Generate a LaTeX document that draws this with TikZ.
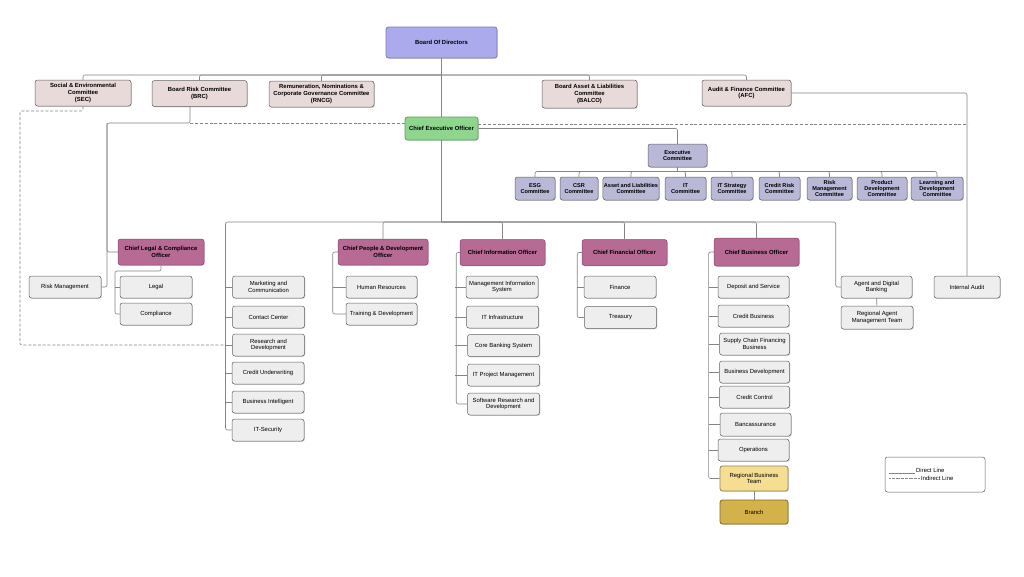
\documentclass[tikz,border=0pt]{standalone}
\usepackage{fontspec}
\setmainfont{Liberation Sans}
\usetikzlibrary{shadows}
\definecolor{boardblue}{HTML}{AAAAEC}
\definecolor{boardline}{HTML}{7B7BB5}
\definecolor{commpink}{HTML}{E8DAD8}
\definecolor{ceogreen}{HTML}{8ED68E}
\definecolor{ceoline}{HTML}{5E9E5E}
\definecolor{execgray}{HTML}{B9B9D7}
\definecolor{officermauve}{HTML}{B66A94}
\definecolor{unitgray}{HTML}{EEEEEE}
\definecolor{rbtyellow}{HTML}{F5DE92}
\definecolor{branchgold}{HTML}{D4B24A}
\definecolor{linegray}{HTML}{858585}
\tikzset{
  base/.style={draw=gray!75!black, line width=0.5pt, rounded corners=2.5pt, align=center, inner sep=1pt,
    font=\fontsize{5.9}{6.6}\selectfont, drop shadow={shadow xshift=0.8pt, shadow yshift=-0.8pt, opacity=0.3}},
  board/.style={base, fill=boardblue, draw=boardline, line width=0.8pt, font=\fontsize{5.9}{6.6}\selectfont\bfseries},
  committee/.style={base, fill=commpink, minimum height=26pt, font=\fontsize{5.9}{6.6}\selectfont\bfseries},
  ceobox/.style={base, fill=ceogreen, draw=ceoline, line width=0.8pt, font=\fontsize{5.9}{6.6}\selectfont\bfseries},
  execbox/.style={base, fill=execgray, minimum height=23pt, font=\fontsize{5.6}{6.4}\selectfont\bfseries},
  officer/.style={base, fill=officermauve, draw=officermauve!70!black, minimum height=26pt, font=\fontsize{5.9}{6.6}\selectfont\bfseries},
  unit/.style={base, fill=unitgray, minimum width=72pt, minimum height=22pt},
  legendbox/.style={draw=gray!75!black, line width=0.5pt, rounded corners=2.5pt, fill=white},
  legendtext/.style={anchor=base west, inner sep=0pt, font=\fontsize{5.9}{6.6}\selectfont},
  direct/.style={draw=linegray, line width=0.6pt, rounded corners=2pt},
  indirect/.style={direct, dash pattern=on 3pt off 1.8pt}
}
\begin{document}
\begin{tikzpicture}[x=1pt, y=-1pt]
\fill[white] (0,0) rectangle (1024,576);
\useasboundingbox (0,0) rectangle (1024,576);

\node[board, minimum width=111pt, minimum height=31pt] (bod) at (441.5,42.5) {Board Of Directors};
\node[committee, minimum width=96pt] (sec) at (83,93) {Social \& Environmental\\Committee\\(SEC)};
\node[committee, minimum width=95pt] (brc) at (199.5,93.5) {Board Risk Committee\\(BRC)};
\node[committee, minimum width=105pt] (rncg) at (321.5,94) {Remuneration, Nominations \&\\Corporate Governance Committee\\(RNCG)};
\node[committee, minimum width=95pt, minimum height=28pt] (balco) at (589.5,94) {Board Asset \& Liabilities\\Committee\\(BALCO)};
\node[committee, minimum width=89pt] (afc) at (746.5,93) {Audit \& Finance Committee\\(AFC)};

\node[ceobox, minimum width=73pt, minimum height=23pt] (ceo) at (441.5,128.5) {Chief Executive Officer};
\node[execbox, minimum width=59pt] (exec) at (677.5,155.5) {Executive\\Committee};

\node[execbox, minimum width=40pt] (esg) at (535,188.5) {ESG\\Committee};
\node[execbox, minimum width=38pt] (csr) at (579,188.5) {CSR\\Committee};
\node[execbox, minimum width=56pt] (alc) at (631,188.5) {Asset and Liabilities\\Committee};
\node[execbox, minimum width=41pt] (itc) at (685.5,188.5) {IT\\Committee};
\node[execbox, minimum width=42pt] (itsc) at (732,188.5) {IT Strategy\\Committee};
\node[execbox, minimum width=41pt] (crc) at (779.5,188.5) {Credit Risk\\Committee};
\node[execbox, minimum width=45pt] (rmc) at (829.5,188.5) {Risk\\Management\\Committee};
\node[execbox, minimum width=50pt] (pdc) at (882,188.5) {Product\\Development\\Committee};
\node[execbox, minimum width=52pt] (ldc) at (937,188.5) {Learning and\\Development\\Committee};

\node[officer, minimum width=86pt] (clco) at (161,252) {Chief Legal \& Compliance\\Officer};
\node[officer, minimum width=90pt] (cpdo) at (383,252) {Chief People \& Development\\Officer};
\node[officer, minimum width=85pt] (cio) at (502.5,252.5) {Chief Information Officer};
\node[officer, minimum width=85pt] (cfo) at (624.5,252.5) {Chief Financial Officer};
\node[officer, minimum width=85pt, minimum height=28pt] (cbo) at (756.5,252) {Chief Business Officer};

\node[unit] (riskm) at (65,287) {Risk Management};
\node[unit] (legal) at (156,287) {Legal};
\node[unit] (comp) at (156,314) {Compliance};

\node[unit] (mkt) at (268.5,287) {Marketing and\\Communication};
\node[unit] (cc) at (268.5,317) {Contact Center};
\node[unit] (rnd) at (268.5,345) {Research and\\Development};
\node[unit] (cu) at (268,373) {Credit Underwriting};
\node[unit] (bi) at (268,402) {Business Intelligent};
\node[unit] (itsec) at (268,430) {IT-Security};

\node[unit, minimum width=71pt] (hr) at (381.5,287) {Human Resources};
\node[unit, minimum width=71pt] (td) at (381.5,314) {Training \& Development};

\node[unit] (mis) at (502,287) {Management Information\\System};
\node[unit] (iti) at (502.5,317) {IT Infrastructure};
\node[unit] (cbs) at (503.5,345.5) {Core Banking System};
\node[unit] (itpm) at (503.5,375) {IT Project Management};
\node[unit] (srd) at (503.5,404) {Software Research and\\Development};

\node[unit] (fin) at (620,287) {Finance};
\node[unit] (tre) at (620.5,317.5) {Treasury};

\node[unit, minimum width=71pt] (dep) at (753.5,287) {Deposit and Service};
\node[unit, minimum width=71pt] (crb) at (753.5,316) {Credit Business};
\node[unit, minimum width=70pt] (scf) at (754.5,344) {Supply Chain Financing\\Business};
\node[unit, minimum width=70pt] (bd) at (754.5,372) {Business Development};
\node[unit, minimum width=70pt] (ccl) at (754.5,397) {Credit Control};
\node[unit, minimum width=71pt, minimum height=23pt] (banc) at (755.5,424.5) {Bancassurance};
\node[unit, minimum width=71pt] (ops) at (753.5,450) {Operations};
\node[unit, minimum width=68pt, minimum height=25pt, fill=rbtyellow, draw=rbtyellow!60!black, line width=0.8pt] (rbt) at (754,478.5) {Regional Business\\Team};
\node[unit, minimum width=68pt, minimum height=24pt, fill=branchgold, draw=branchgold!60!black, line width=0.8pt] (branch) at (754,512) {Branch};

\node[unit, minimum width=71pt] (adb) at (876.5,287) {Agent and Digital\\Banking};
\node[unit, minimum width=72pt, minimum height=23pt] (ramt) at (877,317.5) {Regional Agent\\Management Team};
\node[unit, minimum width=66pt] (ia) at (967,287) {Internal Audit};

\node[legendbox, minimum width=100pt, minimum height=35pt] (legend) at (935,474.5) {};
\node[legendtext] (ldirect) at (916,472.5) {Direct Line};
\node[legendtext] (lindirect) at (921,480.5) {Indirect Line};
\draw[direct] ([xshift=-27pt,yshift=-1pt]ldirect.base west) -- ([xshift=-1pt,yshift=-1pt]ldirect.base west);
\draw[indirect, dash pattern=on 0.8pt off 0.5pt] ([xshift=-32pt,yshift=2pt]lindirect.base west) -- ([xshift=-1pt,yshift=2pt]lindirect.base west);

\coordinate (cbus) at (441.5,75);
\coordinate (brcj) at (190,123);
\coordinate (brcl) at (107,123);
\coordinate (secl) at (20,111);
\coordinate (mktj) at (225.5,345);
\coordinate (afcj) at (968,124);
\coordinate (obus) at (441.5,222);
\coordinate (ebus) at (677.5,171.5);
\coordinate (clcox) at (115,271);

\draw[direct] (bod) -- (ceo);
\foreach \c in {sec,brc,rncg,balco,afc} \draw[direct] (cbus) -| (\c.north);
\draw[direct] (afc.east) -| (ia.north);
\draw[indirect] (ceo.east |- afcj) -- (afcj);
\draw[indirect] (ceo.west |- brcj) -- (brcj);
\draw[indirect] (sec.south) |- (secl) |- (mktj);
\draw[direct] (brc.south -| brcj) |- (brcl) |- (riskm.east);
\draw[direct] (brcl) |- (clco.west);
\draw[direct] (clco.south) |- (clcox) |- (comp.west);
\draw[direct] (clcox |- legal.west) -- (legal.west);

\draw[direct] (ceo.east) -| (exec.north);
\draw[direct] (exec) -- (ebus);
\foreach \c in {esg,csr,alc,itc,itsc,crc,rmc,pdc,ldc} \draw[direct] (ebus) -| (\c.north);

\draw[direct] (ceo) -- (obus);
\draw[direct] (obus) -| (mktj |- itsec.west) -- (itsec.west);
\foreach \u in {mkt,cc,rnd,cu,bi} \draw[direct] (mktj |- \u.west) -- (\u.west);
\foreach \o in {cpdo,cio,cfo,cbo} \draw[direct] (obus) -| (\o.north);
\draw[direct] (obus) -| ([xshift=-5pt]adb.west) -- (adb.west);
\draw[direct] (adb) -- (ramt);

\draw[direct] (cpdo.west) -| ([xshift=-13pt]td.west) -- (td.west);
\draw[direct] ([xshift=-13pt]hr.west) -- (hr.west);
\draw[direct] (cio.west) -| ([xshift=-11pt]srd.west) -- (srd.west);
\foreach \u in {mis,iti,cbs,itpm} \draw[direct] (cio.west |- \u.west) ++(-5,0) -- (\u.west);
\draw[direct] (cfo.west) -| ([xshift=-7pt]tre.west) -- (tre.west);
\draw[direct] ([xshift=-7pt]fin.west) -- (fin.west);
\draw[direct] (cbo.west) -| ([xshift=-11pt]rbt.west) -- (rbt.west);
\foreach \u in {dep,crb,scf,bd,ccl,banc,ops} \draw[direct] (cbo.west |- \u.west) ++(-5,0) -- (\u.west);
\draw[direct] (rbt) -- (branch);
\end{tikzpicture}
\end{document}
